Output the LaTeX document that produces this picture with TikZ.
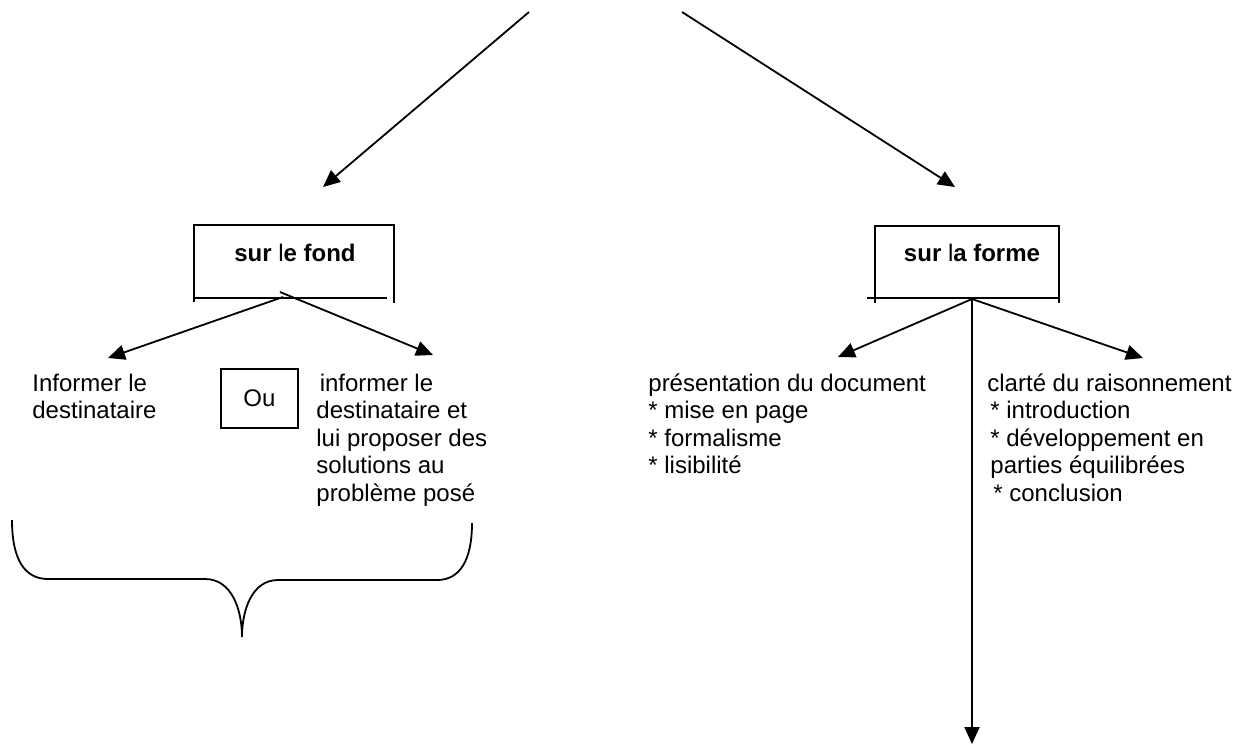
\documentclass[tikz,border=0pt]{standalone}
\usepackage{fontspec}
\setmainfont{Liberation Sans}
\usetikzlibrary{arrows.meta,positioning}

\begin{document}
\begin{tikzpicture}[
    x=0.5pt, y=-0.5pt,
    >={Triangle[length=8.5pt,width=7.5pt]},
    boxlbl/.style={inner sep=0pt, anchor=base,
        font=\fontsize{12}{13.8}\selectfont},
    itemtxt/.style={inner sep=0pt, anchor=base west, align=left,
        font=\fontsize{12}{13.8}\selectfont},
    oubox/.style={draw, line width=0.9pt, inner sep=0pt,
        minimum width=38.5pt, minimum height=29.5pt,
        font=\fontsize{12}{13.8}\selectfont},
    link/.style={->, line width=0.9pt},
    halfbox/.style={line width=0.9pt}
]
\useasboundingbox (0,0) rectangle (1245,746);

% titres des deux volets
\node[boxlbl] (fond) at (295,261) {\textbf{sur }l\textbf{e fond}};
\node[boxlbl] (forme) at (972,261) {\textbf{sur }l\textbf{a forme}};

\draw[halfbox] (194,302) -- (194,225) -- (394,225) -- (394,303);
\draw[halfbox] (194,298) -- (387,298);
\draw[halfbox] (875,303) -- (875,226) -- (1059,226) -- (1059,303);
\draw[halfbox] (867,298) -- (1059,298);

% textes (ancre sur la derniere ligne)
\node[itemtxt] (info) at (32,418.6) {Informer le\\destinataire};
\node[oubox] (ou) at (259.5,398.5) {Ou};
\node[itemtxt] (infosol) at (316,501.4)
    {\hspace{1.7pt}informer le\\destinataire et\\lui proposer des\\solutions au\\problème posé};
\node[itemtxt] (pres) at (648,473.8)
    {présentation du document\\* mise en page\\* formalisme\\* lisibilité};
\node[itemtxt] (clarte) at (987,501.4)
    {clarté du raisonnement\\\hspace{1.5pt}* introduction\\\hspace{1.5pt}* développement en\\\hspace{1.5pt}parties équilibrées\\\hspace{3pt}* conclusion};

% points de depart et d'arrivee
\coordinate (src1) at (529,12);
\coordinate (src2) at (682,12);
\coordinate (tipfond) at (323,187);
\coordinate (tipforme) at (955,187);
\coordinate (fondl) at (283,297);
\coordinate (fondr) at (280,292);
\coordinate (tipinfo) at (108,358);
\coordinate (tipsol) at (433,355);
\coordinate (apex) at (972,299);
\coordinate (tippres) at (838,357);
\coordinate (tipclar) at (1143,358);
\coordinate (tipbas) at (972,744);

\draw[link] (src1) -- (tipfond);
\draw[link] (src2) -- (tipforme);
\draw[link] (fondl) -- (tipinfo);
\draw[link] (fondr) -- (tipsol);
\draw[link] (apex) -- (tippres);
\draw[link] (apex) -- (tipclar);
\draw[link] (apex) -- (tipbas);

% accolade
\draw[halfbox] (12,520) .. controls (12,560) and (25,579) .. (48,579)
    -- (205,579) .. controls (232,579) and (242,610) .. (242,637)
    .. controls (242,610) and (252,580) .. (278,580)
    -- (437,580) .. controls (460,580) and (472,560) .. (472,523);

\end{tikzpicture}
\end{document}
